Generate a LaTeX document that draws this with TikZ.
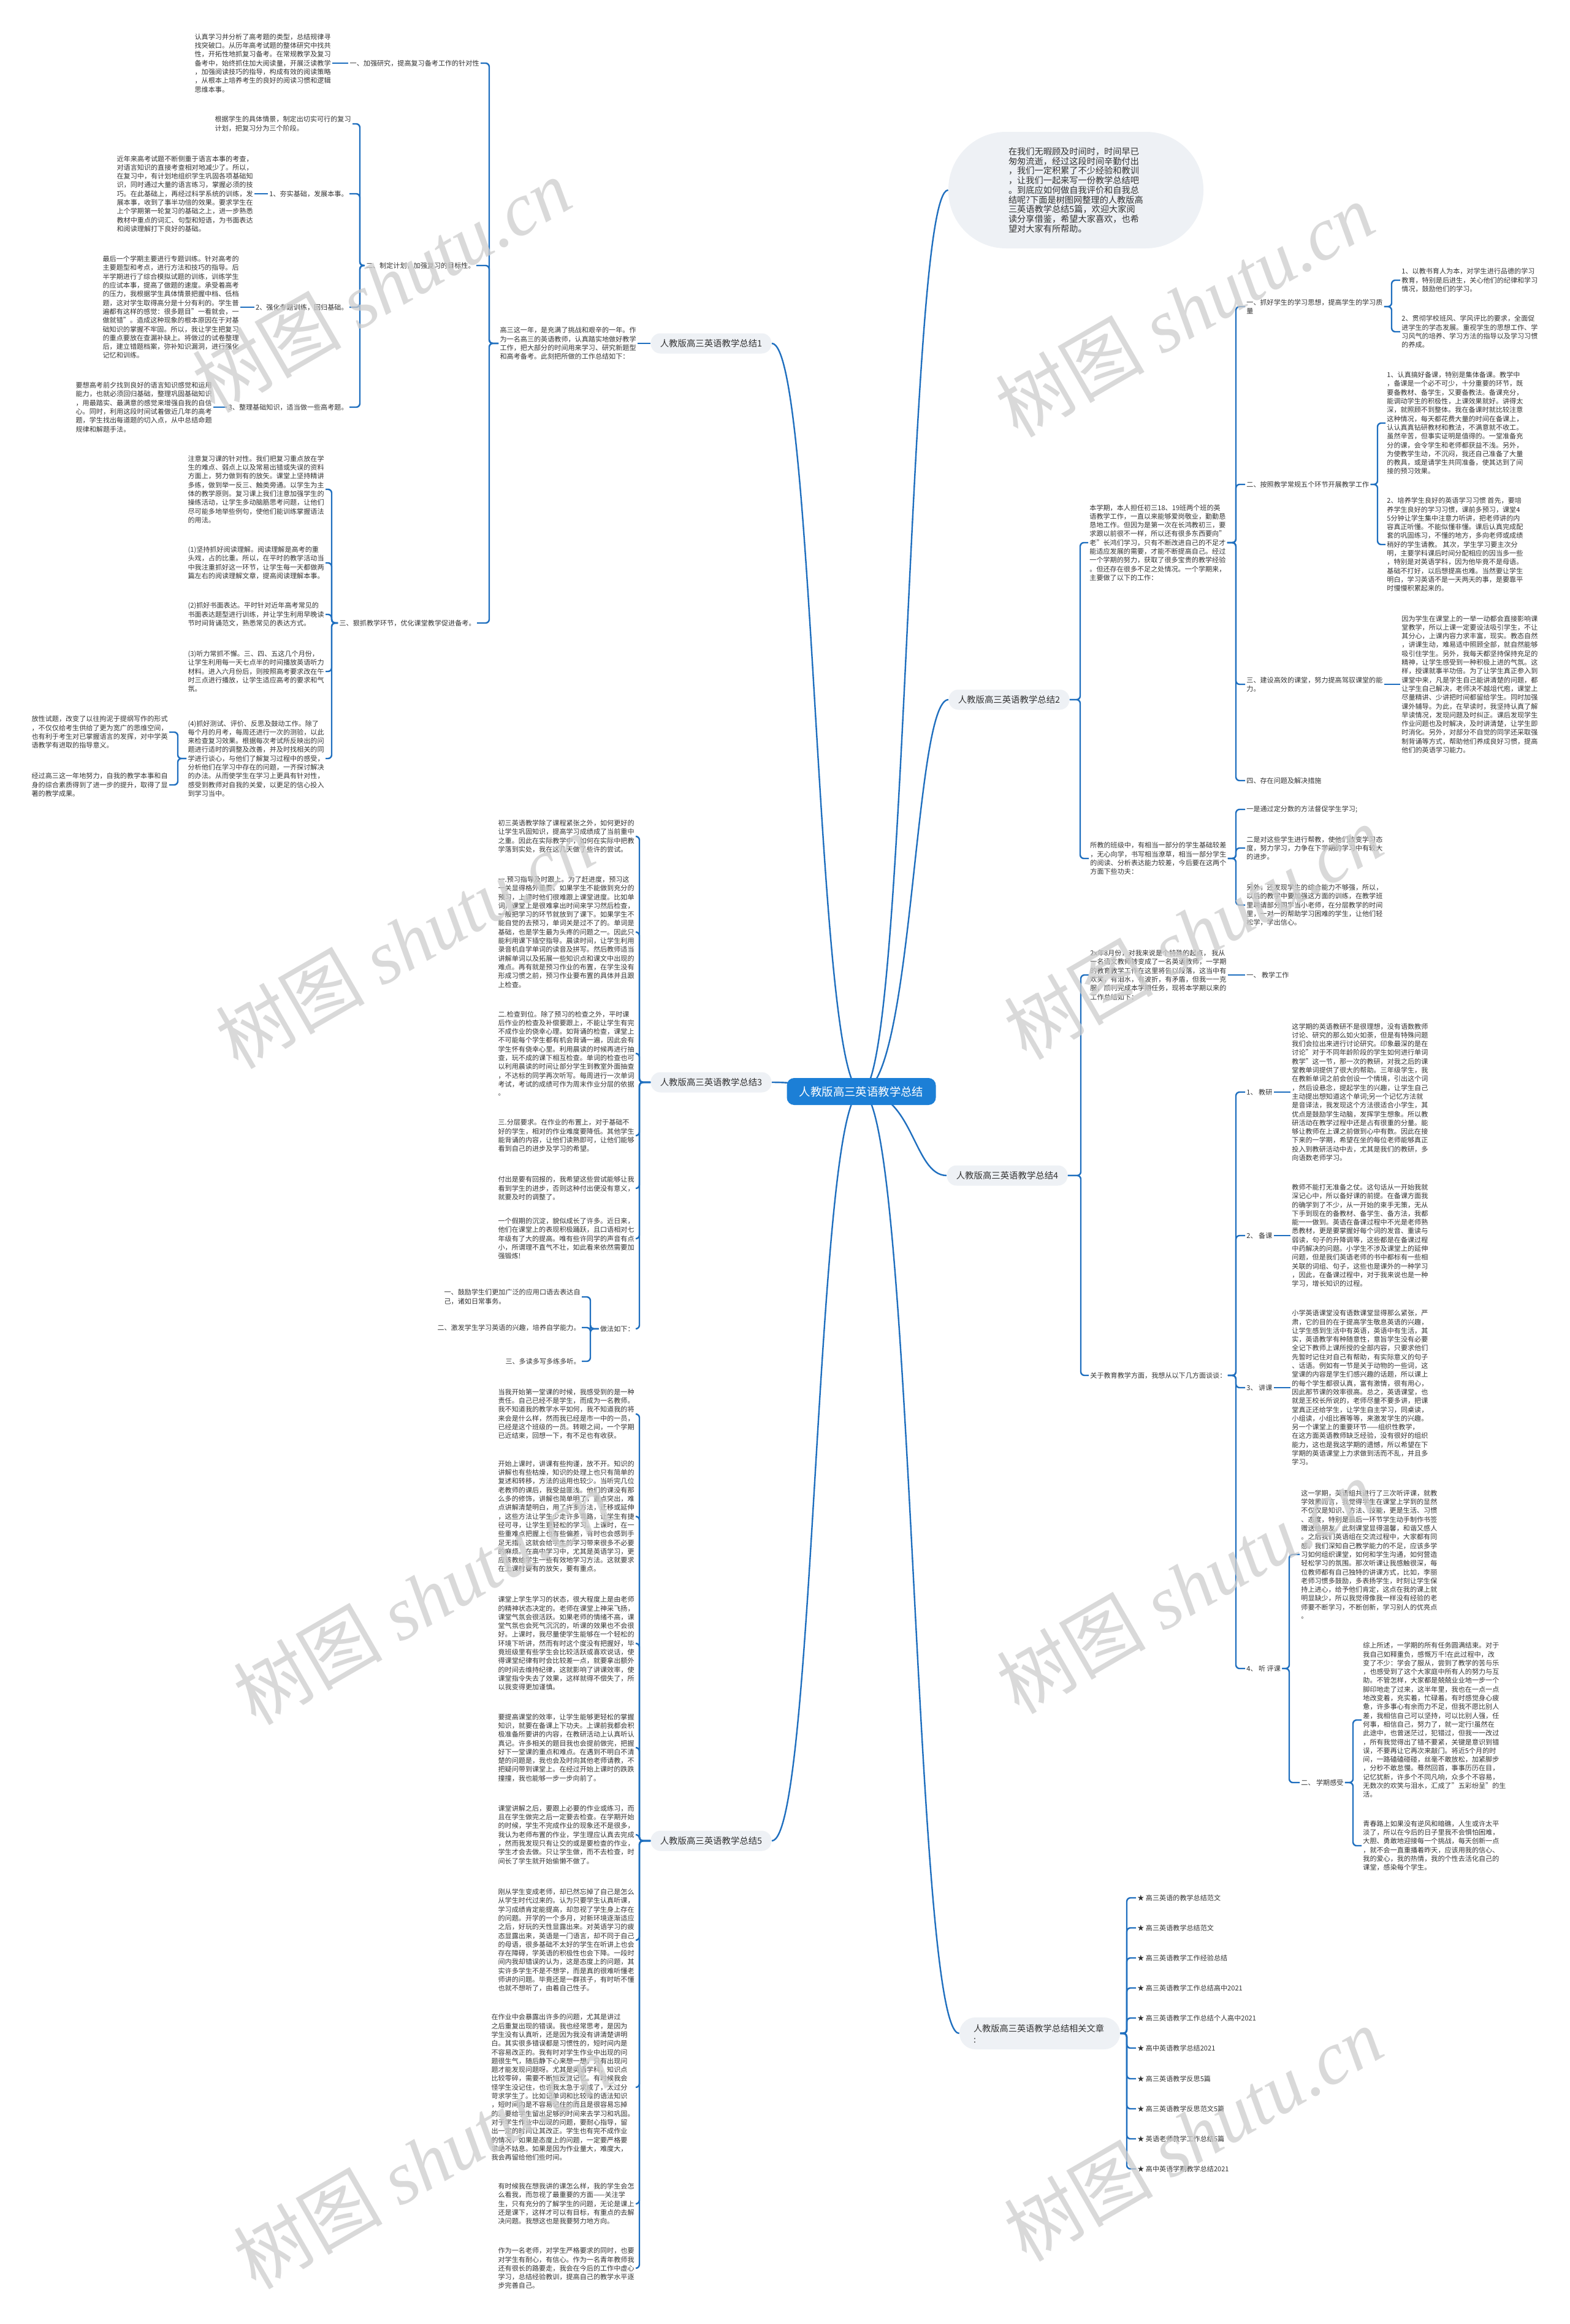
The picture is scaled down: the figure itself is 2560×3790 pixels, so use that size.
\documentclass[tikz,border=0pt]{standalone}
\usepackage{fontspec}
\setmainfont{Noto Sans CJK SC}
\newfontfamily\markfont{Liberation Serif}
\usetikzlibrary{backgrounds}
\definecolor{linkblue}{HTML}{1F6FBF}
\definecolor{rootblue}{HTML}{1C7FD6}
\definecolor{branchbg}{HTML}{EEF1F5}
\definecolor{inktext}{HTML}{333333}
\definecolor{markgray}{HTML}{CDCDCD}

\begin{document}
\begin{tikzpicture}[x=0.5pt, y=-0.5pt,
    rootnode/.style={fill=rootblue, text=white, rounded corners=6pt, minimum width=121.5pt, minimum height=22pt, inner sep=0pt, font=\fontsize{9.2pt}{11pt}\selectfont},
    branch/.style={fill=branchbg, text=inktext, rounded corners=8pt, minimum width=98.5pt, minimum height=16.5pt, inner sep=0pt, font=\fontsize{7.2pt}{9pt}\selectfont},
    para/.style={text=inktext, align=left, inner xsep=1pt, inner ysep=1pt, font=\fontsize{5.55pt}{7.15pt}\selectfont},
    lpara/.style={para, anchor=east},
    rpara/.style={para, anchor=west},
    link/.style={draw=linkblue, line width=1.2pt, rounded corners=3pt},
    curve/.style={draw=linkblue, line width=1.2pt},
    wmark/.style={text=markgray, opacity=0.75, rotate=30, font=\fontsize{61pt}{61pt}\selectfont},
]
\useasboundingbox (0,0) rectangle (2560,3790);

% centre and intro
\node[rootnode] (root) at (1405,1780) {人教版高三英语教学总结};
\node[fill=branchbg, text=inktext, rounded corners=47pt, minimum width=208pt, minimum height=95pt, text width=110pt, align=left, font=\fontsize{7.1pt}{7.85pt}\selectfont] (intro) at (1755,310) {在我们无暇顾及时间时，时间早已\\匆匆流逝，经过这段时间辛勤付出\\，我们一定积累了不少经验和教训\\，让我们一起来写一份教学总结吧\\。到底应如何做自我评价和自我总\\结呢?下面是树图网整理的人教版高\\三英语教学总结5篇，欢迎大家阅\\读分享借鉴，希望大家喜欢，也希\\望对大家有所帮助。};

% ---- summary 1 (left, top)
\node[branch] (sum1) at (1160,560) {人教版高三英语教学总结1};
\node[lpara] (sum1intro) at (1040,560) {高三这一年，是充满了挑战和艰辛的一年。作\\为一名高三的英语教师，认真踏实地做好教学\\工作，把大部分的时间用来学习、研究新题型\\和高考备考。此刻把所做的工作总结如下：};
\coordinate (bar1) at (798,0);
\node[lpara] (s1one) at (784,103) {一、加强研究，提高复习备考工作的针对性};
\node[lpara] (s1onetxt) at (542,103) {认真学习并分析了高考题的类型，总结规律寻\\找突破口。从历年高考试题的整体研究中找共\\性，开拓性地抓复习备考。在常规教学及复习\\备考中，始终抓住加大阅读量，开展泛读教学\\，加强阅读技巧的指导，构成有效的阅读策略\\，从根本上培养考生的良好的阅读习惯和逻辑\\思维本事。};
\node[lpara] (s1two) at (777,433) {二、制定计划，加强复习的目标性。};
\coordinate (bar1two) at (587,0);
\node[lpara] (s1plan) at (575,202) {根据学生的具体情景，制定出切实可行的复习\\计划，把复习分为三个阶段。};
\node[lpara] (s1base) at (570,316) {1、夯实基础，发展本事。};
\node[lpara] (s1basetxt) at (415,316) {近年来高考试题不断侧重于语言本事的考查，\\对语言知识的直接考查相对地减少了。所以，\\在复习中，有计划地组织学生巩固各项基础知\\识，同时通过大量的语言练习，掌握必须的技\\巧。在此基础上，再经过科学系统的训练，发\\展本事，收到了事半功倍的效果。要求学生在\\上个学期第一轮复习的基础之上，进一步熟悉\\教材中重点的词汇、句型和短语，为书面表达\\和阅读理解打下良好的基础。};
\node[lpara] (s1drill) at (570,501) {2、强化专题训练，回归基础。};
\node[lpara] (s1drilltxt) at (392,501) {最后一个学期主要进行专题训练。针对高考的\\主要题型和考点，进行方法和技巧的指导。后\\半学期进行了综合模拟试题的训练，训练学生\\的应试本事，提高了做题的速度。承受着高考\\的压力，我根据学生具体情景把握中档、低档\\题，这对学生取得高分是十分有利的。学生普\\遍都有这样的感觉：很多题目"一看就会，一\\做就错"。造成这种现象的根本原因在于对基\\础知识的掌握不牢固。所以，我让学生把复习\\的重点要放在查漏补缺上。将做过的试卷整理\\后，建立错题档案，弥补知识漏洞，进行强化\\记忆和训练。};
\node[lpara] (s1sort) at (570,664) {3、整理基础知识，适当做一些高考题。};
\node[lpara] (s1sorttxt) at (348,664) {要想高考前夕找到良好的语言知识感觉和运用\\能力，也就必须回归基础，整理巩固基础知识\\，用最踏实、最满意的感觉来增强自我的自信\\心。同时，利用这段时间试着做近几年的高考\\题，学生找出每道题的切入点，从中总结命题\\规律和解题手法。};
\node[lpara] (s1three) at (778,1016) {三、狠抓教学环节，优化课堂教学促进备考。};
\coordinate (bar1three) at (541,0);
\node[lpara] (s1focus) at (531,798) {注意复习课的针对性。我们把复习重点放在学\\生的难点、弱点上以及常易出错或失误的资料\\方面上，努力做到有的放矢。课堂上坚持精讲\\多练，做到举一反三、触类旁通。以学生为主\\体的教学原则。复习课上我们注意加强学生的\\操练活动，让学生多动脑筋思考问题，让他们\\尽可能多地举些例句，使他们能训练掌握语法\\的用法。};
\node[lpara] (s1read) at (531,918) {(1)坚持抓好阅读理解。阅读理解是高考的重\\头戏，占的比重。所以，在平时的教学活动当\\中我注重抓好这一环节，让学生每一天都做两\\篇左右的阅读理解文章，提高阅读理解本事。};
\node[lpara] (s1write) at (531,1002) {(2)抓好书面表达。平时针对近年高考常见的\\书面表达题型进行训练，并让学生利用早晚读\\节时间背诵范文，熟悉常见的表达方式。};
\node[lpara] (s1listen) at (531,1095) {(3)听力常抓不懈。三、四、五这几个月份，\\让学生利用每一天七点半的时间播放英语听力\\材料。进入六月份后，则按照高考要求改在午\\时三点进行播放，让学生适应高考的要求和气\\氛。};
\node[lpara] (s1test) at (531,1237) {(4)抓好测试、评价、反思及鼓动工作。除了\\每个月的月考，每周还进行一次的测验，以此\\来检查复习效果。根据每次考试所反映出的问\\题进行适时的调整及改善，并及时找相关的同\\学进行谈心，与他们了解复习过程中的感受，\\分析他们在学习中存在的问题，一齐探讨解决\\的办法。从而使学生在学习上更具有针对性，\\感受到教师对自我的关爱，以更足的信心投入\\到学习当中。};
\coordinate (bar1test) at (290,0);
\node[lpara] (s1open) at (276,1194) {放性试题，改变了以往拘泥于提纲写作的形式\\，不仅仅给考生供给了更为宽广的思维空间，\\也有利于考生对已掌握语言的发挥，对中学英\\语教学有进取的指导意义。};
\node[lpara] (s1result) at (276,1280) {经过高三这一年地努力，自我的教学本事和自\\身的综合素质得到了进一步的提升，取得了显\\著的教学成果。};

\draw[link] (sum1.west) -- (sum1intro.east);
\foreach \c in {s1one,s1two,s1three}
  \draw[link] (sum1intro.west) -- (sum1intro.west -| bar1) |- (\c.east);
\draw[link] (s1one.west) -- (s1onetxt.east);
\foreach \c in {s1plan,s1base,s1drill,s1sort}
  \draw[link] (s1two.west) -- (s1two.west -| bar1two) |- (\c.east);
\draw[link] (s1base.west) -- (s1basetxt.east);
\draw[link] (s1drill.west) -- (s1drilltxt.east);
\draw[link] (s1sort.west) -- (s1sorttxt.east);
\foreach \c in {s1focus,s1read,s1write,s1listen,s1test}
  \draw[link] (s1three.west) -- (s1three.west -| bar1three) |- (\c.east);
\foreach \c in {s1open,s1result}
  \draw[link] (s1test.west) -- (s1test.west -| bar1test) |- (\c.east);

% ---- summary 3 (left, middle)
\node[branch] (sum3) at (1160,1765) {人教版高三英语教学总结3};
\coordinate (bar3) at (1043,0);
\node[lpara] (s3open) at (1037,1364) {初三英语教学除了课程紧张之外，如何更好的\\让学生巩固知识，提高学习成绩成了当前重中\\之重。因此在实际教学中，如何在实际中把教\\学落到实处，我在这几天做了些许的尝试。};
\node[lpara] (s3preview) at (1037,1520) {一.预习指导及时跟上。为了赶进度，预习这\\一关显得格外重要。如果学生不能做到充分的\\预习，上课时他们很难跟上课堂进度。比如单\\词，课堂上是很难拿出时间来学习然后检查，\\一般把学习的环节就放到了课下。如果学生不\\能自觉的去预习，单词关是过不了的。单词是\\基础，也是学生最为头疼的问题之一。因此只\\能利用课下插空指导。晨读时间，让学生利用\\录音机自学单词的读音及拼写。然后教师适当\\讲解单词以及拓展一些知识点和课文中出现的\\难点。再有就是预习作业的布置，在学生没有\\形成习惯之前，预习作业要布置的具体并且跟\\上检查。};
\node[lpara] (s3check) at (1037,1718) {二.检查到位。除了预习的检查之外，平时课\\后作业的检查及补偿要跟上，不能让学生有完\\不成作业的侥幸心理。如背诵的检查，课堂上\\不可能每个学生都有机会背诵一遍，因此会有\\学生怀有侥幸心里。利用晨读的时候再进行抽\\查，玩不成的课下相互检查。单词的检查也可\\以利用晨读的时间让部分学生到教室外面抽查\\，不达标的同学再次听写。每周进行一次单词\\考试，考试的成绩可作为周末作业分层的依据\\。};
\node[lpara] (s3level) at (1037,1852) {三.分层要求。在作业的布置上，对于基础不\\好的学生，相对的作业难度要降低。其他学生\\能背诵的内容，让他们读熟即可，让他们能够\\看到自己的进步及学习的希望。};
\node[lpara] (s3reward) at (1037,1938) {付出是要有回报的，我希望这些尝试能够让我\\看到学生的进步，否则这种付出便没有意义，\\就要及时的调整了。};
\node[lpara] (s3oral) at (1037,2020) {一个假期的沉淀，貌似成长了许多。近日来，\\他们在课堂上的表现积极踊跃，且口语相对七\\年级有了大的提高。唯有些许同学的声音有点\\小，所谓理不直气不壮，如此看来依然需要加\\强锻炼!};
\node[lpara] (s3way) at (1037,2167) {做法如下：};
\coordinate (bar3way) at (963,0);
\node[lpara] (s3way1) at (949,2115) {一、鼓励学生们更加广泛的应用口语去表达自\\己，诸如日常事务。};
\node[lpara] (s3way2) at (949,2165) {二、激发学生学习英语的兴趣，培养自学能力。};
\node[lpara] (s3way3) at (949,2220) {三、多读多写多练多听。};

\foreach \c in {s3open,s3preview,s3check,s3level,s3reward,s3oral,s3way}
  \draw[link] (sum3.west) -- (sum3.west -| bar3) |- (\c.east);
\foreach \c in {s3way1,s3way2,s3way3}
  \draw[link] (s3way.west) -- (s3way.west -| bar3way) |- (\c.east);

% ---- summary 5 (left, bottom)
\node[branch] (sum5) at (1160,3002) {人教版高三英语教学总结5};
\coordinate (bar5) at (1043,0);
\node[lpara] (s5first) at (1037,2306) {当我开始第一堂课的时候，我感受到的是一种\\责任。自己已经不是学生，而成为一名教师。\\我不知道我的教学水平如何，我不知道我的将\\来会是什么样，然而我已经是市一中的一员，\\已经是这个班级的一员。转眼之间，一个学期\\已近结束，回想一下，有不足也有收获。};
\node[lpara] (s5start) at (1037,2473) {开始上课时，讲课有些拘谨，放不开。知识的\\讲解也有些枯燥，知识的处理上也只有简单的\\复述和转移，方法的运用也较少。当听完几位\\老教师的课后，我受益匪浅。他们的课没有那\\么多的修饰，讲解也简单明了，重点突出，难\\点讲解清楚明白，用了许多方法，迁移或延伸\\，这些方法让学生少走许多弯路，让学生有捷\\径可寻，让学生更轻松的学习。上课时，在一\\些重难点把握上也有些偏差，有时也会感到手\\足无措，这就会给学生的学习带来很多不必要\\的麻烦。在高中学习中，尤其是英语学习，更\\应该教给学生一些有效地学习方法。这就要求\\在上课时要有的放矢，要有重点。};
\node[lpara] (s5mood) at (1037,2680) {课堂上学生学习的状态，很大程度上是由老师\\的精神状态决定的。老师在课堂上神采飞扬，\\课堂气氛会很活跃。如果老师的情绪不高，课\\堂气氛也会死气沉沉的，听课的效果也不会很\\好。上课时，我尽量使学生能够在一个轻松的\\环境下听讲，然而有时这个度没有把握好，毕\\竟班级里有些学生会比较活跃或喜欢说话，使\\得课堂纪律有时会比较差一点，就要拿出额外\\的时间去维持纪律，这就影响了讲课效率，使\\课堂指令失去了效果，这样就得不偿失了，所\\以我变得更加谨慎。};
\node[lpara] (s5prep) at (1037,2850) {要提高课堂的效率，让学生能够更轻松的掌握\\知识，就要在备课上下功夫。上课前我都会积\\极准备所要讲的内容，在教研活动上认真听认\\真记。许多相关的题目我也会提前做完，把握\\好下一堂课的重点和难点。在遇到不明白不清\\楚的问题是，我也会及时向其他老师请教，不\\把疑问带到课堂上。在经过开始上课时的跌跌\\撞撞，我也能够一步一步向前了。};
\node[lpara] (s5homework) at (1037,2992) {课堂讲解之后，要跟上必要的作业或练习，而\\且在学生做完之后一定要去检查。在学期开始\\的时候，学生不完成作业的现象还不是很多，\\我认为老师布置的作业，学生理应认真去完成\\，然而我发现只有让交的或是要检查的作业，\\学生才会去做。只让学生做，而不去检查，时\\间长了学生就开始偷懒不做了。};
\node[lpara] (s5change) at (1037,3164) {刚从学生变成老师，却已然忘掉了自己是怎么\\从学生时代过来的。认为只要学生认真听课，\\学习成绩肯定能提高，却忽视了学生身上存在\\的问题。开学的一个多月，对新环境逐渐适应\\之后，好玩的天性显露出来。对英语学习的疲\\态显露出来，英语是一门语言，却不同于自己\\的母语，很多基础不太好的学生在听讲上也会\\存在障碍，学英语的积极性也会下降。一段时\\间内我却错误的认为，这是态度上的问题，其\\实许多学生不是不想学，而是真的很难听懂老\\师讲的问题。毕竟还是一群孩子，有时听不懂\\也就不想听了，由着自己性子。};
\node[lpara] (s5errors) at (1037,3404) {在作业中会暴露出许多的问题，尤其是讲过\\之后重复出现的错误。我也经常思考，是因为\\学生没有认真听，还是因为我没有讲清楚讲明\\白。其实很多错误都是习惯性的，短时间内是\\不容易改正的。我有时对学生作业中出现的问\\题很生气，随后静下心来想一想，只有出现问\\题才能发现问题呀。尤其是英语学科，知识点\\比较零碎，需要不断地反复记忆。有时候我会\\怪学生没记住，也许我太急于求成了，太过分\\苛求学生了。比如记单词和比较难的语法知识\\，短时间内是不容易记住的而且是很容易忘掉\\的。要给学生留出足够的时间来去学习和巩固。\\对于学生作业中出现的问题，要耐心指导，留\\出一定的时间让其改正。学生也有完不成作业\\的情况，如果是态度上的问题，一定要严格要\\求绝不姑息。如果是因为作业量大，难度大，\\我会再留给他们些时间。};
\node[lpara] (s5focus) at (1037,3594) {有时候我在想我讲的课怎么样，我的学生会怎\\么看我，而忽视了最重要的方面——关注学\\生，只有充分的了解学生的问题，无论是课上\\还是课下，这样才可以有目标，有重点的去解\\决问题。我想这也是我要努力地方向。};
\node[lpara] (s5end) at (1037,3699) {作为一名老师，对学生严格要求的同时，也要\\对学生有耐心，有信心。作为一名青年教师我\\还有很长的路要走，我会在今后的工作中虚心\\学习，总结经验教训，提高自己的教学水平逐\\步完善自己。};

\foreach \c in {s5first,s5start,s5mood,s5prep,s5homework,s5change,s5errors,s5focus,s5end}
  \draw[link] (sum5.west) -- (sum5.west -| bar5) |- (\c.east);

% ---- summary 2 (right, top)
\node[branch] (sum2) at (1646,1141) {人教版高三英语教学总结2};
\coordinate (bar2) at (1762,0);
\node[rpara] (s2intro) at (1775,885) {本学期，本人担任初三18、19班两个班的英\\语教学工作，一直以来能够爱岗敬业，勤勤恳\\恳地工作。但因为是第一次在长鸿教初三，要\\求跟以前很不一样，所以还有很多东西要向"\\老"长鸿们学习，只有不断改进自己的不足才\\能适应发展的需要，才能不断提高自己。经过\\一个学期的努力，获取了很多宝贵的教学经验\\。但还存在很多不足之处情况。一个学期来，\\主要做了以下的工作：};
\node[rpara] (s2class) at (1776,1400) {所教的班级中，有相当一部分的学生基础较差\\，无心向学，书写相当潦草，相当一部分学生\\的阅读、分析表达能力较差，今后要在这两个\\方面下些功夫：};
\coordinate (bar2s) at (2016,0);
\node[rpara] (s2one) at (2031,500) {一、抓好学生的学习思想，提高学生的学习质\\量};
\node[rpara] (s2two) at (2031,790) {二、按照教学常规五个环节开展教学工作};
\node[rpara] (s2three) at (2031,1116) {三、建设高效的课堂，努力提高驾驭课堂的能\\力。};
\node[rpara] (s2four) at (2031,1273) {四、存在问题及解决措施};
\coordinate (bar2one) at (2270,0);
\node[rpara] (s2moral) at (2284,457) {1、以教书育人为本，对学生进行品德的学习\\教育，特别是后进生，关心他们的纪律和学习\\情况，鼓励他们的学习。};
\node[rpara] (s2style) at (2284,541) {2、贯彻学校班风、学风评比的要求，全面促\\进学生的学态发展。重视学生的思想工作、学\\习风气的培养、学习方法的指导以及学习习惯\\的养成。};
\coordinate (bar2two) at (2247,0);
\node[rpara] (s2prep) at (2260,690) {1、认真搞好备课，特别是集体备课。教学中\\，备课是一个必不可少，十分重要的环节，既\\要备教材、备学生，又要备教法。备课充分，\\能调动学生的积极性，上课效果就好。讲得太\\深，就照顾不到整体。我在备课时就比较注意\\这种情况，每天都花费大量的时间在备课上，\\认认真真钻研教材和教法，不满意就不收工。\\虽然辛苦，但事实证明是值得的。一堂准备充\\分的课，会令学生和老师都获益不浅。另外，\\为使教学生动，不沉闷，我还自己准备了大量\\的教具，或是请学生共同准备，使其达到了间\\接的预习效果。};
\node[rpara] (s2habit) at (2260,888) {2、培养学生良好的英语学习习惯 首先，要培\\养学生良好的学习习惯，课前多预习，课堂4\\5分钟让学生集中注意力听讲，把老师讲的内\\容真正听懂。不能似懂非懂。课后认真完成配\\套的巩固练习，不懂的地方，多向老师或成绩\\稍好的学生请教。 其次，学生学习要主次分\\明，主要学科课后时间分配相应的因当多一些\\，特别是对英语学科，因为他毕竟不是母语。\\基础不打好，以后想提高也难。当然要让学生\\明白，学习英语不是一天两天的事，是要靠平\\时慢慢积累起来的。};
\node[rpara] (s2lesson) at (2284,1116) {因为学生在课堂上的一举一动都会直接影响课\\堂教学，所以上课一定要设法吸引学生，不让\\其分心，上课内容力求丰富，现实。教态自然\\，讲课生动，难易适中照顾全部，就自然能够\\吸引住学生。另外，我每天都坚持保持充足的\\精神，让学生感受到一种积极上进的气氛。这\\样，授课就事半功倍。为了让学生真正参入到\\课堂中来，凡是学生自己能讲清楚的问题，都\\让学生自己解决，老师决不越俎代庖，课堂上\\尽量精讲、少讲把时间都留给学生。同时加强\\课外辅导。为此，在早读时，我坚持认真了解\\早读情况，发现问题及时纠正。课后发现学生\\作业问题也及时解决，及时讲清楚，让学生即\\时消化。另外，对部分不自觉的同学还采取强\\制背诵等方式，帮助他们养成良好习惯，提高\\他们的英语学习能力。};
\coordinate (bar2c) at (2016,0);
\node[rpara] (s2class1) at (2031,1320) {一是通过定分数的方法督促学生学习;};
\node[rpara] (s2class2) at (2031,1383) {二是对这些学生进行帮教，使他们改变学习态\\度，努力学习，力争在下学期的学习中有较大\\的进步。};
\node[rpara] (s2class3) at (2031,1476) {另外，还发现学生的综合能力不够强，所以，\\以后的教学中要加强这方面的训练，在教学班\\里聘请部分同学当小老师，在分层教学的时间\\里，一对一的帮助学习困难的学生，让他们轻\\松学，学出信心。};

\foreach \c in {s2intro,s2class}
  \draw[link] (sum2.east) -- (sum2.east -| bar2) |- (\c.west);
\foreach \c in {s2one,s2two,s2three,s2four}
  \draw[link] (s2intro.east) -- (s2intro.east -| bar2s) |- (\c.west);
\foreach \c in {s2moral,s2style}
  \draw[link] (s2one.east) -- (s2one.east -| bar2one) |- (\c.west);
\foreach \c in {s2prep,s2habit}
  \draw[link] (s2two.east) -- (s2two.east -| bar2two) |- (\c.west);
\draw[link] (s2three.east) -- (s2lesson.west);
\foreach \c in {s2class1,s2class2,s2class3}
  \draw[link] (s2class.east) -- (s2class.east -| bar2c) |- (\c.west);

% ---- summary 4 (right, middle)
\node[branch] (sum4) at (1643,1917) {人教版高三英语教学总结4};
\coordinate (bar4) at (1763,0);
\node[rpara] (s4intro) at (1776,1590) {2x年8月份，对我来说是个特殊的起点， 我从\\一名语文教师转变成了一名英语教师，一学期\\的教育教学工作在这里将告以段落，这当中有\\欢笑，有泪水，有波折，有矛盾，但我一一克\\服，顺利完成本学期任务，现将本学期以来的\\工作总结如下：};
\node[rpara] (s4work) at (2031,1590) {一、 教学工作};
\node[rpara] (s4about) at (1776,2243) {关于教育教学方面，我想从以下几方面谈谈：};
\coordinate (bar4a) at (2016,0);
\node[rpara] (s4res) at (2031,1781) {1、 教研};
\node[rpara] (s4restxt) at (2105,1781) {这学期的英语教研不是很理想，没有语数教师\\讨论、研究的那么如火如荼，但是有特殊问题\\我们会拉出来进行讨论研究。印象最深的是在\\讨论"对于不同年龄阶段的学生如何进行单词\\教学"这一节，那一次的教研，对我之后的课\\堂教单词提供了很大的帮助。三年级学生，我\\在教新单词之前会创设一个情境，引出这个词\\，然后设悬念，提起学生的兴趣，让学生自己\\主动提出想知道这个单词;另一个记忆方法就\\是音译法，我发现这个方法很适合小学生，其\\优点是鼓励学生动脑，发挥学生想象。所以教\\研活动在教学过程中还是占有很重的分量。能\\够让教师在上课之前做到心中有数。因此在接\\下来的一学期，希望在坐的每位老师能够真正\\投入到教研活动中去，尤其是我们的教研，多\\向语数老师学习。};
\node[rpara] (s4prep) at (2031,2015) {2、 备课};
\node[rpara] (s4preptxt) at (2105,2015) {教师不能打无准备之仗。这句话从一开始我就\\深记心中，所以备好课的前提。在备课方面我\\的确学到了不少，从一开始的束手无策，无从\\下手到现在的备教材、备学生、备方法，我都\\能一一做到。英语在备课过程中不光是老师熟\\悉教材，更是要掌握好每个词的发音、重读与\\弱读，句子的升降调等，这些都是在备课过程\\中药解决的问题。小学生不涉及课堂上的延伸\\问题，但是我们英语老师的书中都标有一些相\\关联的词组、句子，这些也是课外的一种学习\\，因此，在备课过程中，对于我来说也是一种\\学习，增长知识的过程。};
\node[rpara] (s4teach) at (2031,2263) {3、 讲课};
\node[rpara] (s4teachtxt) at (2105,2263) {小学英语课堂没有语数课堂显得那么紧张，严\\肃，它的目的在于提高学生敬息英语的兴趣，\\让学生感到生活中有英语，英语中有生活，其\\实，英语教学有种随意性，意旨学生没有必要\\全记下教师上课所授的全部内容，只要求他们\\先暂时记住对自己有帮助，有实际意义的句子\\、话语。例如有一节是关于动物的一些词，这\\堂课的内容是学生们感兴趣的话题，所以课上\\的每个学生都很认真，富有激情，很有用心，\\因此那节课的效率很高。总之，英语课堂，也\\就是王校长所说的，老师尽量不要多讲，把课\\堂真正还给学生，让学生自主学习，同桌读，\\小组读，小组比赛等等，来激发学生的兴趣。\\另一个课堂上的重要环节——组织性教学，\\在这方面英语教师缺乏经验，没有很好的组织\\能力，这也是我这学期的遗憾，所以希望在下\\学期的英语课堂上力求做到活而不乱，并且多\\学习。};
\node[rpara] (s4eval) at (2031,2721) {4、 听 评课};
\coordinate (bar4e) at (2103,0);
\node[rpara] (s4evaltxt) at (2120,2535) {这一学期，英语组共进行了三次听评课，就教\\学效果而言，我觉得学生在课堂上学到的显然\\不仅仅是知识、方法、技能，更是生活、习惯\\、态度，特别是最后一环节学生动手制作书签\\赠送给朋友，此刻课堂显得温馨，和谐又感人\\。之后我们英语组在交流过程中，大家都有同\\感。我们深知自己教学能力的不足，应该多学\\习如何组织课堂，如何和学生沟通，如何营造\\轻松学习的氛围。那次听课让我感触很深，每\\位教师都有自己独特的讲课方式，比如，李丽\\老师习惯多鼓励，多表扬学生，时刻让学生保\\持上进心，给予他们肯定，这点在我的课上就\\明显缺少，所以我觉得像我一样没有经验的老\\师要不断学习，不断创新，学习别人的优亮点\\。};
\node[rpara] (s4feel) at (2120,2907) {二、 学期感受};
\coordinate (bar4f) at (2207,0);
\node[rpara] (s4feeltxt) at (2221,2805) {综上所述，一学期的所有任务圆满结束。对于\\我自己如释重负，感慨万千!在此过程中，改\\变了不少：学会了服从，尝到了教学的苦与乐\\，也感受到了这个大家庭中所有人的努力与互\\助。不管怎样，大家都是兢兢业业地一步一个\\脚印地走了过来，这半年里，我也在一点一点\\地改变着，充实着，忙碌着。有时感觉身心疲\\惫，许多事心有余而力不足，但我不愿比别人\\差，我相信自己可以坚持，可以比别人强，任\\何事，相信自己，努力了，就一定行!虽然在\\此途中，也曾迷茫过，犯错过，但我一一改过\\，所有我觉得出了错不要紧，关键是意识到错\\误，不要再让它再次来敲门。将近5个月的时\\间，一路磕磕碰碰，丝毫不敢放松，加紧脚步\\，分秒不敢怠慢。蓦然回首，事事历历在目，\\记忆犹新，许多个不同凡响，众多个不容易，\\无数次的欢笑与泪水，汇成了"五彩纷呈"的生\\活。};
\node[rpara] (s4youth) at (2221,3010) {青春路上如果没有逆风和暗礁，人生或许太平\\淡了，所以在今后的日子里我不会惧怕困难，\\大胆、勇敢地迎接每一个挑战，每天创新一点\\，就不会一直重播着昨天，应该用我的信心、\\我的爱心，我的热情，我的个性去活化自己的\\课堂，感染每个学生。};

\foreach \c in {s4intro,s4about}
  \draw[link] (sum4.east) -- (sum4.east -| bar4) |- (\c.west);
\draw[link] (s4intro.east) -- (s4work.west);
\foreach \c in {s4res,s4prep,s4teach,s4eval}
  \draw[link] (s4about.east) -- (s4about.east -| bar4a) |- (\c.west);
\draw[link] (s4res.east) -- (s4restxt.west);
\draw[link] (s4prep.east) -- (s4preptxt.west);
\draw[link] (s4teach.east) -- (s4teachtxt.west);
\foreach \c in {s4evaltxt,s4feel}
  \draw[link] (s4eval.east) -- (s4eval.east -| bar4e) |- (\c.west);
\foreach \c in {s4feeltxt,s4youth}
  \draw[link] (s4feel.east) -- (s4feel.east -| bar4f) |- (\c.west);

% ---- related articles (right, bottom)
\node[branch, rounded corners=13pt, minimum width=131pt, minimum height=26pt, text width=108pt, align=left, font=\fontsize{7.1pt}{9pt}\selectfont] (rel) at (1696,3316) {人教版高三英语教学总结相关文章\\:};
\coordinate (barrel) at (1838,0);
\foreach \t/\y [count=\i] in {高三英语的教学总结范文/3095, 高三英语教学总结范文/3144, 高三英语教学工作经验总结/3193, 高三英语教学工作总结高中2021/3242, 高三英语教学工作总结个人高中2021/3291, 高中英语教学总结2021/3340, 高三英语教学反思5篇/3390, 高三英语教学反思范文5篇/3439, 英语老师教学工作总结5篇/3488, 高中英语学期教学总结2021/3537}
  \node[rpara] (rel\i) at (1853,\y) {★ \t};
\foreach \i in {1,...,10}
  \draw[link] (rel.east) -- (rel.east -| barrel) |- (rel\i.west);

% curves from the centre
\begin{pgfonlayer}{background}
\fill[white] (0,0) rectangle (2560,3790);
\draw[curve] (root.center) .. controls (1330,1780) and (1330,560) .. (sum1.east);
\draw[curve] (root.center) .. controls (1330,1780) and (1330,1765) .. (sum3.east);
\draw[curve] (root.center) .. controls (1330,1780) and (1330,3002) .. (sum5.east);
\draw[curve] (root.center) .. controls (1480,1780) and (1480,310) .. (intro.west);
\draw[curve] (root.center) .. controls (1490,1780) and (1490,1141) .. (sum2.west);
\draw[curve] (root.center) .. controls (1490,1780) and (1490,1917) .. (sum4.west);
\draw[curve] (root.center) .. controls (1490,1780) and (1490,3316) .. (rel.west);
\end{pgfonlayer}

% watermark
\foreach \x/\y [count=\i] in {622/465, 1932/505, 660/1535, 1946/1520, 689/2605, 1934/2587, 689/3525, 1946/3480}
  \node[wmark] (mark\i) at (\x,\y) {树图 {\markfont\itshape shutu.cn}};
\end{tikzpicture}
\end{document}
